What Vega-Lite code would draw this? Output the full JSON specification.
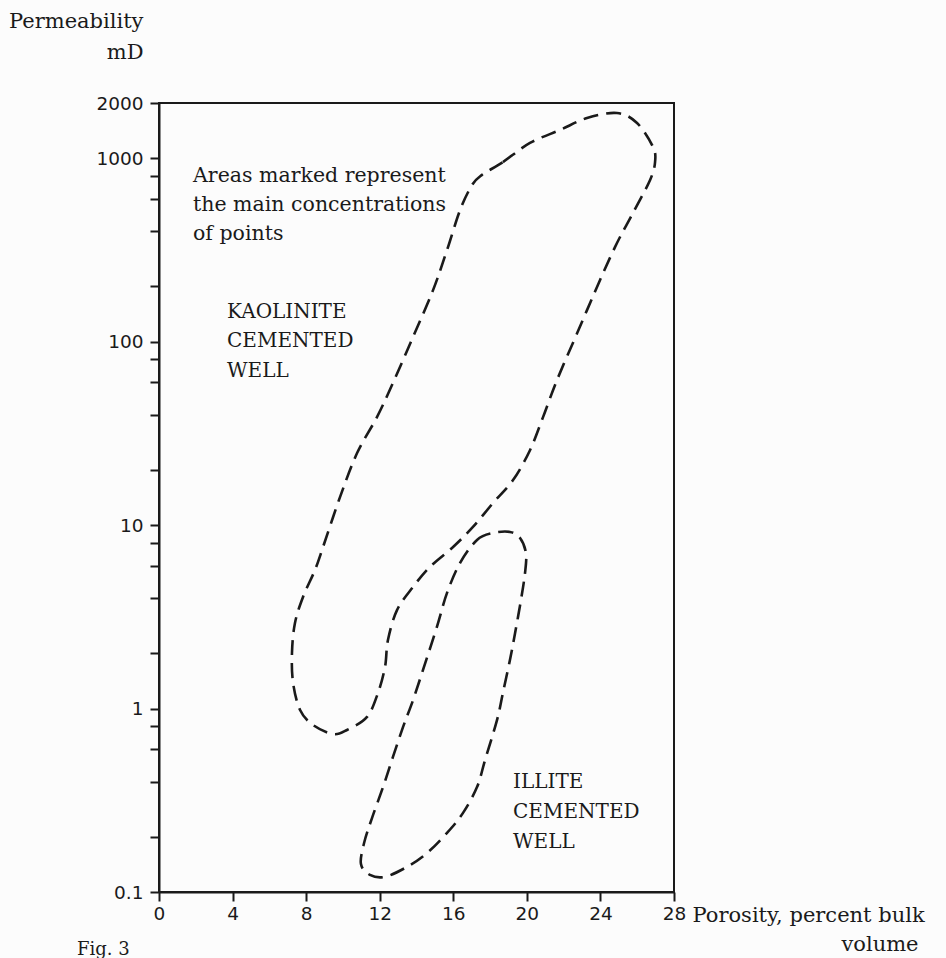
{
  "$schema": "https://vega.github.io/schema/vega-lite/v6.json",
  "width": 515,
  "height": 789,
  "autosize": {"type": "none"},
  "padding": {"left": 159, "top": 103, "right": 272, "bottom": 66},
  "background": "#fcfcfc",
  "config": {
    "view": {"stroke": "#1a1a1a", "strokeWidth": 2},
    "axis": {
      "grid": false,
      "domainColor": "#1a1a1a",
      "domainWidth": 2,
      "tickColor": "#1a1a1a",
      "tickWidth": 2,
      "tickSize": 9,
      "labelFont": "DejaVu Sans",
      "labelFontSize": 18.5,
      "labelColor": "#1a1a1a",
      "titleFont": "DejaVu Serif",
      "titleFontSize": 21,
      "titleFontWeight": "normal",
      "titleColor": "#1a1a1a"
    }
  },
  "datasets": {
    "curves": [
      {"well": "kaolinite", "order": 1, "porosity": 17.56, "perm": 811},
      {"well": "kaolinite", "order": 2, "porosity": 18.70, "perm": 953},
      {"well": "kaolinite", "order": 3, "porosity": 20.17, "perm": 1211},
      {"well": "kaolinite", "order": 4, "porosity": 21.80, "perm": 1425},
      {"well": "kaolinite", "order": 5, "porosity": 23.27, "perm": 1656},
      {"well": "kaolinite", "order": 6, "porosity": 24.90, "perm": 1764},
      {"well": "kaolinite", "order": 7, "porosity": 25.99, "perm": 1556},
      {"well": "kaolinite", "order": 8, "porosity": 26.86, "perm": 1151},
      {"well": "kaolinite", "order": 9, "porosity": 26.97, "perm": 953},
      {"well": "kaolinite", "order": 10, "porosity": 26.70, "perm": 761},
      {"well": "kaolinite", "order": 11, "porosity": 25.77, "perm": 503},
      {"well": "kaolinite", "order": 12, "porosity": 24.90, "perm": 345},
      {"well": "kaolinite", "order": 13, "porosity": 23.98, "perm": 217},
      {"well": "kaolinite", "order": 14, "porosity": 22.73, "perm": 111},
      {"well": "kaolinite", "order": 15, "porosity": 21.64, "perm": 61.8},
      {"well": "kaolinite", "order": 16, "porosity": 20.88, "perm": 38.8},
      {"well": "kaolinite", "order": 17, "porosity": 20.17, "perm": 25.6},
      {"well": "kaolinite", "order": 18, "porosity": 19.25, "perm": 17.6},
      {"well": "kaolinite", "order": 19, "porosity": 18.16, "perm": 13.2},
      {"well": "kaolinite", "order": 20, "porosity": 17.07, "perm": 9.77},
      {"well": "kaolinite", "order": 21, "porosity": 15.99, "perm": 7.6},
      {"well": "kaolinite", "order": 22, "porosity": 14.73, "perm": 5.92},
      {"well": "kaolinite", "order": 23, "porosity": 13.81, "perm": 4.6},
      {"well": "kaolinite", "order": 24, "porosity": 12.94, "perm": 3.44},
      {"well": "kaolinite", "order": 25, "porosity": 12.45, "perm": 2.37},
      {"well": "kaolinite", "order": 26, "porosity": 12.29, "perm": 1.69},
      {"well": "kaolinite", "order": 27, "porosity": 11.91, "perm": 1.22},
      {"well": "kaolinite", "order": 28, "porosity": 11.31, "perm": 0.9},
      {"well": "kaolinite", "order": 29, "porosity": 10.22, "perm": 0.764},
      {"well": "kaolinite", "order": 30, "porosity": 9.46, "perm": 0.726},
      {"well": "kaolinite", "order": 31, "porosity": 8.37, "perm": 0.814},
      {"well": "kaolinite", "order": 32, "porosity": 7.67, "perm": 0.982},
      {"well": "kaolinite", "order": 33, "porosity": 7.29, "perm": 1.38},
      {"well": "kaolinite", "order": 34, "porosity": 7.23, "perm": 2.01},
      {"well": "kaolinite", "order": 35, "porosity": 7.39, "perm": 2.92},
      {"well": "kaolinite", "order": 36, "porosity": 7.83, "perm": 4.06},
      {"well": "kaolinite", "order": 37, "porosity": 8.48, "perm": 5.69},
      {"well": "kaolinite", "order": 38, "porosity": 8.92, "perm": 7.6},
      {"well": "kaolinite", "order": 39, "porosity": 9.84, "perm": 14.2},
      {"well": "kaolinite", "order": 40, "porosity": 10.77, "perm": 24.7},
      {"well": "kaolinite", "order": 41, "porosity": 11.85, "perm": 38.8},
      {"well": "kaolinite", "order": 42, "porosity": 12.72, "perm": 59.6},
      {"well": "kaolinite", "order": 43, "porosity": 13.81, "perm": 106},
      {"well": "kaolinite", "order": 44, "porosity": 14.90, "perm": 191},
      {"well": "kaolinite", "order": 45, "porosity": 15.66, "perm": 316},
      {"well": "kaolinite", "order": 46, "porosity": 16.37, "perm": 522},
      {"well": "kaolinite", "order": 47, "porosity": 17.02, "perm": 714},
      {"well": "illite", "order": 1, "porosity": 16.37, "perm": 6.22},
      {"well": "illite", "order": 2, "porosity": 17.29, "perm": 8.3},
      {"well": "illite", "order": 3, "porosity": 18.16, "perm": 9.06},
      {"well": "illite", "order": 4, "porosity": 19.08, "perm": 9.18},
      {"well": "illite", "order": 5, "porosity": 19.63, "perm": 8.51},
      {"well": "illite", "order": 6, "porosity": 19.95, "perm": 7.05},
      {"well": "illite", "order": 7, "porosity": 19.90, "perm": 5.48},
      {"well": "illite", "order": 8, "porosity": 19.68, "perm": 3.91},
      {"well": "illite", "order": 9, "porosity": 19.36, "perm": 2.58},
      {"well": "illite", "order": 10, "porosity": 19.08, "perm": 1.84},
      {"well": "illite", "order": 11, "porosity": 18.70, "perm": 1.22},
      {"well": "illite", "order": 12, "porosity": 18.38, "perm": 0.867},
      {"well": "illite", "order": 13, "porosity": 17.73, "perm": 0.525},
      {"well": "illite", "order": 14, "porosity": 17.29, "perm": 0.373},
      {"well": "illite", "order": 15, "porosity": 16.53, "perm": 0.27},
      {"well": "illite", "order": 16, "porosity": 15.66, "perm": 0.21},
      {"well": "illite", "order": 17, "porosity": 14.57, "perm": 0.163},
      {"well": "illite", "order": 18, "porosity": 13.48, "perm": 0.137},
      {"well": "illite", "order": 19, "porosity": 12.29, "perm": 0.121},
      {"well": "illite", "order": 20, "porosity": 11.47, "perm": 0.124},
      {"well": "illite", "order": 21, "porosity": 10.98, "perm": 0.142},
      {"well": "illite", "order": 22, "porosity": 11.15, "perm": 0.185},
      {"well": "illite", "order": 23, "porosity": 11.58, "perm": 0.253},
      {"well": "illite", "order": 24, "porosity": 12.18, "perm": 0.373},
      {"well": "illite", "order": 25, "porosity": 12.72, "perm": 0.545},
      {"well": "illite", "order": 26, "porosity": 13.27, "perm": 0.794},
      {"well": "illite", "order": 27, "porosity": 13.81, "perm": 1.11},
      {"well": "illite", "order": 28, "porosity": 14.35, "perm": 1.62},
      {"well": "illite", "order": 29, "porosity": 15.11, "perm": 2.79},
      {"well": "illite", "order": 30, "porosity": 15.66, "perm": 4.27}
    ]
  },
  "layer": [
    {
      "data": {"name": "curves"},
      "mark": {"type": "line", "interpolate": "cardinal-closed", "strokeDash": [15, 8], "strokeWidth": 2.6, "color": "#1a1a1a"},
      "encoding": {
        "x": {
          "field": "porosity", "type": "quantitative",
          "scale": {"domain": [0, 28], "nice": false, "zero": false},
          "axis": {
            "values": [0, 4, 8, 12, 16, 20, 24, 28],
            "labelFlush": false,
            "labelOverlap": false,
            "labelPadding": 3,
            "title": "Porosity, percent bulk",
            "titleX": 533,
            "titleY": 29,
            "titleAlign": "left",
            "titleBaseline": "alphabetic"
          }
        },
        "y": {
          "field": "perm", "type": "quantitative",
          "scale": {"type": "log", "domain": [0.1, 2000], "nice": false},
          "axis": {
            "values": [0.1, 0.2, 0.4, 0.6, 0.8, 1, 2, 4, 6, 8, 10, 20, 40, 60, 80, 100, 200, 400, 600, 800, 1000, 2000],
            "format": "~g",
            "labelExpr": "indexof([0.1, 1, 10, 100, 1000, 2000], datum.value) >= 0 ? datum.label : ''",
            "labelOverlap": false,
            "labelPadding": 7,
            "title": ["Permeability", "mD"],
            "titleAngle": 0,
            "titleAlign": "right",
            "titleBaseline": "alphabetic",
            "titleX": -16,
            "titleY": -76,
            "titleLineHeight": 31
          }
        },
        "order": {"field": "order", "type": "quantitative"},
        "detail": {"field": "well", "type": "nominal"}
      }
    },
    {
      "data": {"values": [{}]},
      "mark": {"type": "text", "text": ["Areas marked represent", "the main concentrations", "of points"], "align": "left", "baseline": "alphabetic", "font": "DejaVu Serif", "fontSize": 20.5, "lineHeight": 29, "color": "#1a1a1a"},
      "encoding": {
        "x": {"datum": 1.85, "type": "quantitative", "scale": {"domain": [0, 28], "nice": false, "zero": false}},
        "y": {"datum": 742, "type": "quantitative", "scale": {"type": "log", "domain": [0.1, 2000], "nice": false}}
      }
    },
    {
      "data": {"values": [{}]},
      "mark": {"type": "text", "text": ["KAOLINITE", "CEMENTED", "WELL"], "align": "left", "baseline": "alphabetic", "font": "DejaVu Serif", "fontSize": 20, "lineHeight": 29.5, "color": "#1a1a1a"},
      "encoding": {
        "x": {"datum": 3.7, "type": "quantitative", "scale": {"domain": [0, 28], "nice": false, "zero": false}},
        "y": {"datum": 134.6, "type": "quantitative", "scale": {"type": "log", "domain": [0.1, 2000], "nice": false}}
      }
    },
    {
      "data": {"values": [{}]},
      "mark": {"type": "text", "text": ["ILLITE", "CEMENTED", "WELL"], "align": "left", "baseline": "alphabetic", "font": "DejaVu Serif", "fontSize": 20, "lineHeight": 30, "color": "#1a1a1a"},
      "encoding": {
        "x": {"datum": 19.25, "type": "quantitative", "scale": {"domain": [0, 28], "nice": false, "zero": false}},
        "y": {"datum": 0.369, "type": "quantitative", "scale": {"type": "log", "domain": [0.1, 2000], "nice": false}}
      }
    },
    {
      "data": {"values": [{}]},
      "mark": {"type": "text", "text": "volume", "align": "center", "baseline": "alphabetic", "font": "DejaVu Serif", "fontSize": 21, "color": "#1a1a1a"},
      "encoding": {
        "x": {"datum": 39.2, "type": "quantitative", "scale": {"domain": [0, 28], "nice": false, "zero": false}},
        "y": {"datum": 0.0477, "type": "quantitative", "scale": {"type": "log", "domain": [0.1, 2000], "nice": false}}
      }
    },
    {
      "data": {"values": [{}]},
      "mark": {"type": "text", "text": "Fig. 3", "align": "left", "baseline": "alphabetic", "font": "DejaVu Serif", "fontSize": 18, "color": "#1a1a1a"},
      "encoding": {
        "x": {"datum": -4.46, "type": "quantitative", "scale": {"domain": [0, 28], "nice": false, "zero": false}},
        "y": {"datum": 0.0455, "type": "quantitative", "scale": {"type": "log", "domain": [0.1, 2000], "nice": false}}
      }
    }
  ]
}
